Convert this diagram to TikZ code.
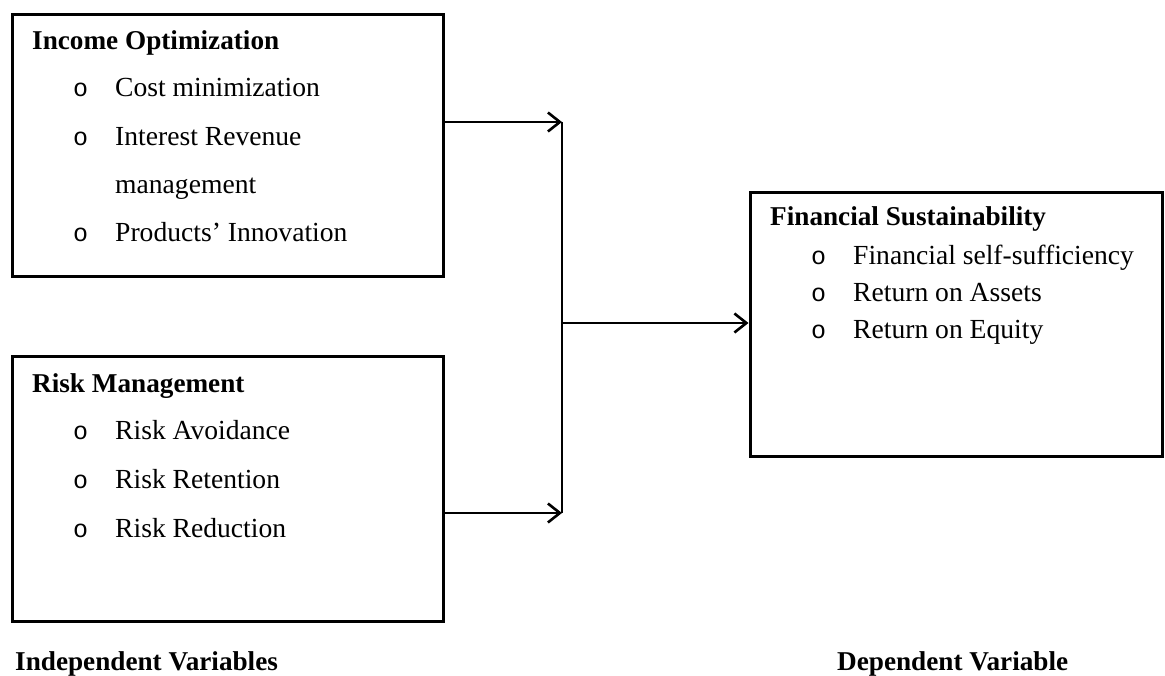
\documentclass[tikz,border=0pt]{standalone}
\usepackage{fontspec}
\setmainfont{Liberation Serif}
\newfontfamily\bulletfont{Liberation Mono}
\usetikzlibrary{arrows.meta}
\begin{document}
\begin{tikzpicture}[x=1pt,y=-1pt,
  box/.style={draw, line width=3pt, rectangle, inner sep=0pt},
  txt/.style={anchor=base west, inner sep=0pt, font=\fontsize{27.6}{32}\selectfont},
  head/.style={anchor=base west, inner sep=0pt, font=\fontsize{27.2}{32}\selectfont\bfseries},
  bul/.style={anchor=base west, inner sep=0pt, font=\fontsize{25}{32}\bulletfont},
  arr/.style={line width=2.6pt, -{Straight Barb[length=12pt,width=19pt,line width=2.6pt]}},
  conn/.style={line width=2.6pt}]
\useasboundingbox (0,0) rectangle (1165,676);
% boxes
\node[box, minimum width=431pt, minimum height=262pt] (box1) at (227.5,146) {};
\node[box, minimum width=431pt, minimum height=264pt] (box2) at (227.5,489) {};
\node[box, minimum width=412pt, minimum height=263pt] (box3) at (956,324.5) {};
% box 1 text
\node[head] (h1) at (32,50) {Income Optimization};
\node[bul] (b1a) at (73,97) {o};
\node[txt] (t1a) at (115,97) {Cost minimization};
\node[bul] (b1b) at (73,146) {o};
\node[txt] (t1b) at (115,146) {Interest Revenue};
\node[txt] (t1c) at (115,194) {management};
\node[bul] (b1d) at (73,242) {o};
\node[txt] (t1d) at (115,242) {Products’ Innovation};
% box 2 text
\node[head] (h2) at (32,392) {Risk Management};
\node[bul] (b2a) at (73,439) {o};
\node[txt] (t2a) at (115,439) {Risk Avoidance};
\node[bul] (b2b) at (73,488) {o};
\node[txt] (t2b) at (115,488) {Risk Retention};
\node[bul] (b2c) at (73,537) {o};
\node[txt] (t2c) at (115,537) {Risk Reduction};
% box 3 text
\node[head] (h3) at (770,226) {Financial Sustainability};
\node[bul] (b3a) at (811,265) {o};
\node[txt] (t3a) at (853,265) {Financial self-sufficiency};
\node[bul] (b3b) at (811,302) {o};
\node[txt] (t3b) at (853,302) {Return on Assets};
\node[bul] (b3c) at (811,339) {o};
\node[txt] (t3c) at (853,339) {Return on Equity};
% captions
\node[head] (cap1) at (15,670) {Independent Variables};
\node[head] (cap2) at (837,670) {Dependent Variable};
% connectors
\coordinate (j1) at (562,122);
\coordinate (j2) at (562,513);
\coordinate (jm) at (562,323);
\draw[arr] (box1.east |- j1) -- (j1);
\draw[arr] (box2.east |- j2) -- (j2);
\draw[conn] (j1) -- (j2);
\draw[arr] (jm) -- (jm -| box3.west);
\end{tikzpicture}
\end{document}
